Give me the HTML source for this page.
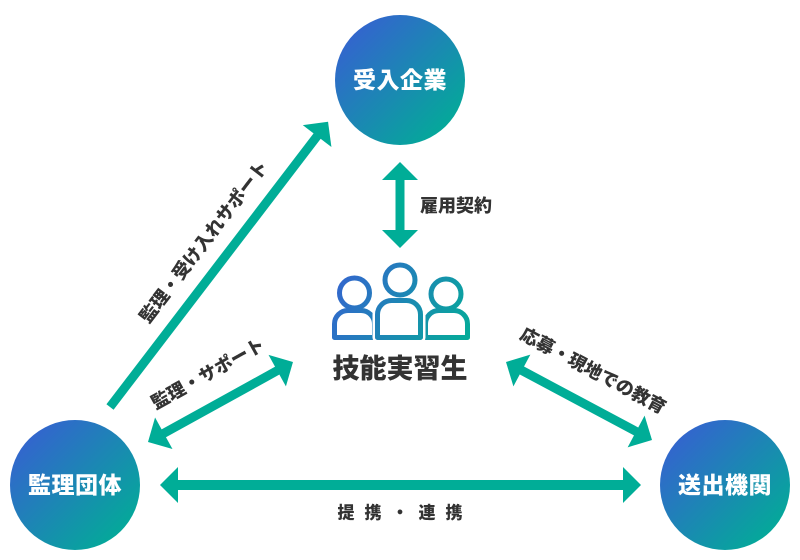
<!DOCTYPE html>
<html><head><meta charset="utf-8"><style>
html,body{margin:0;padding:0;background:#fff;}
svg{display:block;}
text{font-family:"Liberation Sans","Noto Sans CJK JP",sans-serif;font-weight:900;}
</style></head><body>
<svg width="800" height="560" viewBox="0 0 800 560" xmlns="http://www.w3.org/2000/svg">
<defs>
<linearGradient id="cg" x1="0" y1="0" x2="1" y2="1">
<stop offset="0.1" stop-color="#3562d0"/>
<stop offset="0.9" stop-color="#02ac97"/>
</linearGradient>
<linearGradient id="pg" gradientUnits="userSpaceOnUse" x1="335" y1="270" x2="468" y2="342">
<stop offset="0" stop-color="#3563d0"/>
<stop offset="1" stop-color="#04ac98"/>
</linearGradient>
</defs>

<!-- circles -->
<circle cx="400" cy="80" r="65" fill="url(#cg)"/>
<circle cx="75" cy="485" r="65" fill="url(#cg)"/>
<circle cx="725" cy="485" r="65" fill="url(#cg)"/>
<text x="400" y="80" fill="#fff" font-size="23" text-anchor="middle" dominant-baseline="central" letter-spacing="0.5">受入企業</text>
<text x="75" y="485" fill="#fff" font-size="23" text-anchor="middle" dominant-baseline="central" letter-spacing="0.5">監理団体</text>
<text x="725" y="485" fill="#fff" font-size="23" text-anchor="middle" dominant-baseline="central" letter-spacing="0.5">送出機関</text>

<!-- arrows -->
<g fill="#00ad97">
  <g transform="translate(400,162) rotate(90)">
    <polygon points="0,0 18,-18 18,18"/>
    <rect x="17" y="-4.5" width="52" height="9"/>
    <polygon points="68,-18 86,0 68,18"/>
  </g>
  <g transform="translate(160,485)">
    <polygon points="0,0 18,-18 18,18"/>
    <rect x="17" y="-5" width="447" height="10"/>
    <polygon points="463,-18 481,0 463,18"/>
  </g>
  <g transform="translate(110,407) rotate(-52.6)">
    <rect x="0" y="-4.5" width="342" height="9"/>
    <polygon points="341,-18 359,0 341,18"/>
  </g>
  <g transform="translate(148,442) rotate(-28.9)">
    <polygon points="0,0 18,-18 18,18"/>
    <rect x="17" y="-4.5" width="132" height="9"/>
    <polygon points="147.6,-18 165.6,0 147.6,18"/>
  </g>
  <g transform="translate(506,362) rotate(28.1)">
    <polygon points="0,0 18,-18 18,18"/>
    <rect x="17" y="-4.5" width="132" height="9"/>
    <polygon points="147.5,-18 165.5,0 147.5,18"/>
  </g>
</g>

<!-- labels -->
<g fill="#333">
<text x="420" y="206" font-size="18" dominant-baseline="central">雇用契約</text>
<text transform="translate(204,242) rotate(-52.6)" font-size="18" text-anchor="middle" dominant-baseline="central">監理・受け入れサポート</text>
<text transform="translate(208,374) rotate(-29)" font-size="18" text-anchor="middle" dominant-baseline="central">監理・サポート</text>
<text transform="translate(593,371) rotate(28)" font-size="18" text-anchor="middle" dominant-baseline="central">応募・現地での教育</text>
<text x="405" y="513" font-size="17" text-anchor="middle" dominant-baseline="central" letter-spacing="10">提携・連携</text>
<text x="400" y="369" font-size="27" text-anchor="middle" dominant-baseline="central">技能実習生</text>
</g>

<!-- people icon -->
<g fill="none" stroke="url(#pg)" stroke-width="5" stroke-linejoin="round" stroke-linecap="round">
  <circle cx="354.5" cy="293" r="15"/>
  <path d="M334.5,337.5 V324 A13.5,13.5 0 0 1 348,310.5 H361 A13.5,13.5 0 0 1 374.5,324 V337.5 Z"/>
  <circle cx="446" cy="294" r="15"/>
  <path d="M425.5,337.5 V324 A13.5,13.5 0 0 1 439,310.5 H454 A13.5,13.5 0 0 1 467.5,324 V337.5 Z"/>
</g>
<path d="M377.5,337.5 V314.5 A14,14 0 0 1 391.5,300.5 H406.5 A14,14 0 0 1 420.5,314.5 V337.5 Z" fill="#fff" stroke="#fff" stroke-width="10" stroke-linejoin="round"/>
<circle cx="400" cy="280" r="15" fill="#fff" stroke="#fff" stroke-width="10"/>
<g fill="none" stroke="url(#pg)" stroke-width="5" stroke-linejoin="round" stroke-linecap="round">
  <circle cx="400" cy="280" r="15"/>
  <path d="M377.5,337.5 V314.5 A14,14 0 0 1 391.5,300.5 H406.5 A14,14 0 0 1 420.5,314.5 V337.5 Z"/>
</g>
</svg>
</body></html>
